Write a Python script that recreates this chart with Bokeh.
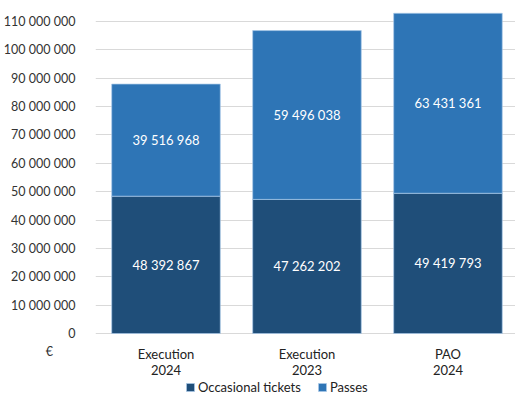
from bokeh.plotting import figure
from bokeh.models import (ColumnDataSource, FixedTicker, CustomJSTickFormatter,
                          Legend, LegendItem, Range1d)
from bokeh.core.properties import value
from bokeh.embed import file_html
from bokeh.resources import INLINE

categories = ["Execution\n2024", "Execution\n2023", "PAO\n2024"]
occasional = [48392867, 47262202, 49419793]
passes = [39516968, 59496038, 63431361]
series_names = ["Occasional tickets", "Passes"]
y_ticks = [i * 10_000_000 for i in range(12)]
unit_label = "€"

DARK = "#1f4e79"
LIGHT = "#2e75b6"
FONT = "Lato"

# geometry: frame spans from top (y=5px) to canvas bottom; value 0 sits at y=333px
W, H = 515, 394
TOP, ZERO_PX = 5, 333
Y_TOP = 115.6e6
per_px = Y_TOP / (ZERO_PX - TOP)
Y_BOTTOM = -(H - ZERO_PX) * per_px
unit_tick = -18 * per_px

xs = list(range(len(categories)))
source = ColumnDataSource(dict(x=xs, occasional=occasional, passes=passes))

p = figure(width=W, height=H, output_backend="svg", toolbar_location=None,
           x_range=Range1d(-0.5, 2.479), y_range=Range1d(Y_BOTTOM, Y_TOP),
           min_border_left=95, min_border_right=0, min_border_top=TOP, min_border_bottom=0,
           x_axis_location=None)
p.outline_line_color = None
p.background_fill_color = "white"
p.border_fill_color = "white"

rs = p.vbar_stack(["occasional", "passes"], x="x", width=0.77, source=source,
                  color=[DARK, LIGHT], line_color="#a9c8e8", line_width=0.7)

# value labels
def fmt(v):
    return f"{v:,}".replace(",", " ")

lab_x, lab_y, lab_t = [], [], []
for i in xs:
    lab_x += [i, i]
    lab_y += [occasional[i] / 2, occasional[i] + passes[i] / 2]
    lab_t += [fmt(occasional[i]), fmt(passes[i])]
p.text(x=lab_x, y=lab_y, text=lab_t, text_align="center", text_baseline="middle",
       text_color="white", text_font=value(FONT), text_font_size="13px")

# category labels under the bars
p.text(x=xs, y=[0] * len(xs), text=categories, y_offset=12, text_align="center",
       text_baseline="top", text_color="#222222", text_font=value(FONT),
       text_font_size="13px", text_line_height=1.0)

# y axis (with unit label as an extra tick below zero)
p.yaxis.ticker = FixedTicker(ticks=y_ticks + [unit_tick])
p.yaxis.formatter = CustomJSTickFormatter(
    code=r"return tick.toFixed(0).replace(/\B(?=(\d{3})+(?!\d))/g, ' ');")
p.yaxis.major_label_overrides = {unit_tick: unit_label + "\u00a0" * 7}
p.yaxis.axis_line_color = None
p.yaxis.major_tick_line_color = None
p.yaxis.minor_tick_line_color = None
p.yaxis.major_label_text_font = FONT
p.yaxis.major_label_text_font_size = "12.5px"
p.yaxis.major_label_text_color = "#333333"
p.yaxis.major_label_standoff = 14

p.xgrid.grid_line_color = None
p.ygrid.ticker = FixedTicker(ticks=y_ticks)
p.ygrid.grid_line_color = "#d9d9d9"
p.ygrid.grid_line_width = 1

legend = Legend(items=[LegendItem(label=n, renderers=[r]) for n, r in zip(series_names, rs)],
                orientation="horizontal", location=(90, -1),
                glyph_width=10, glyph_height=10, label_standoff=3, spacing=16,
                padding=0, margin=0, label_height=14,
                label_text_font=FONT, label_text_font_size="13px", label_text_color="#222222",
                background_fill_alpha=0, border_line_color=None)
p.add_layout(legend)

open("out.html", "w").write(file_html(p, INLINE))
